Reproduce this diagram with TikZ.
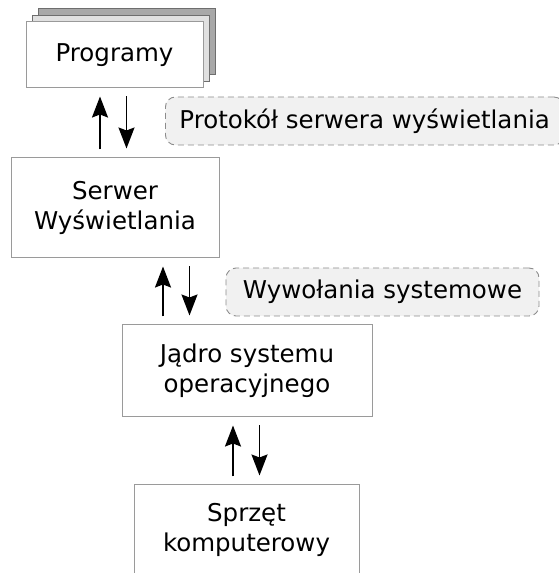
\documentclass[tikz,border=0pt]{standalone}
\usepackage{fontspec}
\setmainfont{DejaVu Sans}
\usetikzlibrary{arrows.meta}
\usetikzlibrary{positioning}

\definecolor{boxgray}{HTML}{9A9A9A}
\definecolor{edgegray}{HTML}{6E6E6E}
\definecolor{backgray}{HTML}{A8A8A8}
\definecolor{midgray}{HTML}{E0E0E0}
\definecolor{notegray}{HTML}{8C8C8C}
\definecolor{notefill}{HTML}{F1F1F1}

\tikzset{
    block/.style={rectangle, draw=boxgray, line width=1pt, fill=white, align=center,
        inner sep=0pt, font=\fontsize{24.5pt}{30pt}\selectfont},
    layer/.style={rectangle, draw=edgegray, line width=1pt, inner sep=0pt,
        minimum width=177pt, minimum height=66pt},
    note/.style={rectangle, rounded corners=10pt, draw=notegray, dash pattern=on 6pt off 4pt,
        line width=0.9pt, fill=notefill, inner xsep=14pt, inner ysep=0pt, minimum height=48pt,
        font=\fontsize{24.5pt}{30pt}\selectfont},
    flow/.style={-{Stealth[length=21pt,width=16pt,inset=3pt]}, line width=1.8pt},
}

\begin{document}
\begin{tikzpicture}[x=1pt,y=1pt]
    \useasboundingbox (0,0) rectangle (559,573);

    % stacked program windows
    \foreach \k/\col in {2/backgray,1/midgray}{
        \draw (114.5+6*\k, 518+6.75*\k) node[layer,fill=\col] (prog\k) {};
    }
    \draw (114.5, 518) node[block,minimum width=177pt,minimum height=66pt] (prog) {Programy};

    \draw (115, 365) node[block,minimum width=208pt,minimum height=100pt] (serwer) {Serwer\\Wyświetlania};
    \draw (247, 202) node[block,minimum width=250pt,minimum height=92pt] (jadro) {Jądro systemu\\operacyjnego};
    \draw (246.5, 43) node[block,minimum width=225pt,minimum height=90pt] (sprzet) {Sprzęt\\komputerowy};

    % interface labels
    \draw (165, 452) node[note,anchor=west] (protokol) {Protokół serwera wyświetlania};
    \draw (382.5, 281) node[note,minimum width=313pt] (wywolania) {Wywołania systemowe};

    % up and down arrows between the layers
    \foreach \lo/\hi/\lx/\hx in {serwer/prog/-15/-14.5, jadro/serwer/-84/48, sprzet/jadro/-13.5/-14}{
        \draw[flow] ([xshift=\lx pt,yshift=8pt]\lo.north) -- ([xshift=\hx pt,yshift=-8pt]\hi.south);
        \draw[flow] ([xshift=\hx pt+26.5pt,yshift=-8pt]\hi.south) -- ([xshift=\lx pt+26.5pt,yshift=9pt]\lo.north);
    }
\end{tikzpicture}
\end{document}
